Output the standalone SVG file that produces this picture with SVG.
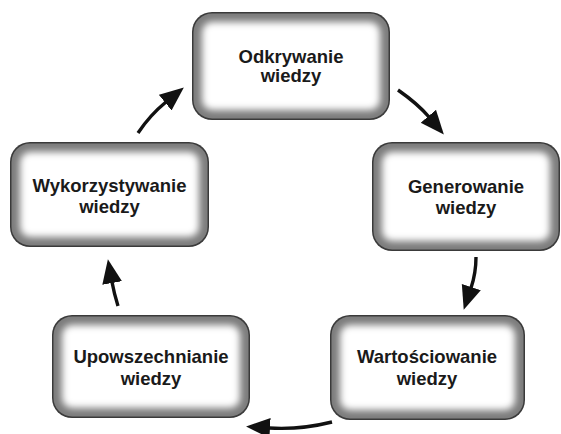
<svg xmlns="http://www.w3.org/2000/svg" width="561" height="434" viewBox="0 0 561 434">
  <defs>
    <style>
      .frame { fill: #3a3a3a; }
      .band { fill: #7c7c7c; }
      .core { fill: #ffffff; filter: url(#soft); }
      .label { font-family: "Liberation Sans", Arial, sans-serif; font-weight: bold; font-size: 18.5px; fill: #1a1a1a; text-anchor: middle; }
      .link { fill: none; stroke: #111111; stroke-width: 3.4; stroke-linecap: butt; }
    </style>
    <filter id="soft" x="-20%" y="-20%" width="140%" height="140%">
      <feGaussianBlur stdDeviation="3.8"/>
    </filter>
    <marker id="head" markerUnits="userSpaceOnUse" markerWidth="28" markerHeight="24" refX="1" refY="11" orient="auto">
      <path d="M0,1 L24,11 L0,21 Z" fill="#111111"/>
    </marker>
  </defs>

  <!-- Odkrywanie wiedzy -->
  <g id="odkrywanie">
    <rect class="frame" x="192" y="12" width="198" height="108" rx="20"/>
    <rect class="band" x="193.5" y="13.5" width="195" height="105" rx="18.5"/>
    <rect class="core" x="202" y="22" width="178" height="88" rx="10"/>
    <text class="label" x="291" y="63">Odkrywanie</text>
    <text class="label" x="291" y="82">wiedzy</text>
  </g>

  <!-- Generowanie wiedzy -->
  <g id="generowanie">
    <rect class="frame" x="372" y="142" width="188" height="109" rx="20"/>
    <rect class="band" x="373.5" y="143.5" width="185" height="106" rx="18.5"/>
    <rect class="core" x="382" y="152" width="168" height="89" rx="10"/>
    <text class="label" x="466" y="193">Generowanie</text>
    <text class="label" x="466" y="214">wiedzy</text>
  </g>

  <!-- Wartościowanie wiedzy -->
  <g id="wartosciowanie">
    <rect class="frame" x="330" y="315" width="195" height="105" rx="20"/>
    <rect class="band" x="331.5" y="316.5" width="192" height="102" rx="18.5"/>
    <rect class="core" x="340" y="325" width="175" height="85" rx="10"/>
    <text class="label" x="427" y="363">Wartościowanie</text>
    <text class="label" x="427" y="385">wiedzy</text>
  </g>

  <!-- Upowszechnianie wiedzy -->
  <g id="upowszechnianie">
    <rect class="frame" x="52" y="315" width="198" height="103" rx="20"/>
    <rect class="band" x="53.5" y="316.5" width="195" height="100" rx="18.5"/>
    <rect class="core" x="62" y="325" width="178" height="83" rx="10"/>
    <text class="label" x="151" y="363">Upowszechnianie</text>
    <text class="label" x="151" y="385">wiedzy</text>
  </g>

  <!-- Wykorzystywanie wiedzy -->
  <g id="wykorzystywanie">
    <rect class="frame" x="10" y="142" width="199" height="105" rx="20"/>
    <rect class="band" x="11.5" y="143.5" width="196" height="102" rx="18.5"/>
    <rect class="core" x="20" y="152" width="179" height="85" rx="10"/>
    <text class="label" x="109.5" y="192">Wykorzystywanie</text>
    <text class="label" x="109.5" y="213">wiedzy</text>
  </g>

  <!-- cycle arrows -->
  <g id="connectors">
    <path class="link" d="M398,90 Q418,104 429,117" marker-end="url(#head)"/>
    <path class="link" d="M476,257 Q476,273 471,288" marker-end="url(#head)"/>
    <path class="link" d="M332,422 Q300,430 269,428" marker-end="url(#head)"/>
    <path class="link" d="M118,306 Q114,293 112,282" marker-end="url(#head)"/>
    <path class="link" d="M138,133 Q150,115 166,102" marker-end="url(#head)"/>
  </g>
</svg>
